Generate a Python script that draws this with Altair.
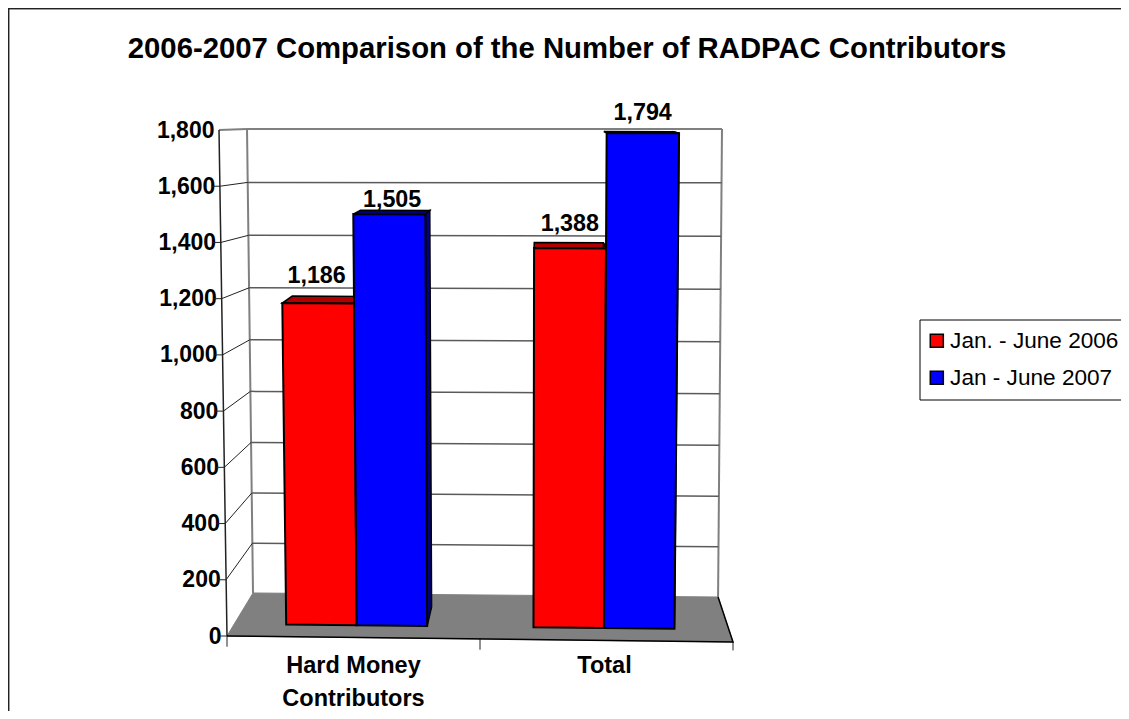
import altair as alt
import pandas as pd

title_text = "2006-2007 Comparison of the Number of RADPAC Contributors"
categories = ["Hard Money Contributors", "Total"]
series = ["Jan. - June 2006", "Jan - June 2007"]
values_2006 = [1186, 1388]
values_2007 = [1505, 1794]
y_ticks = [0, 200, 400, 600, 800, 1000, 1200, 1400, 1600, 1800]
series_colors = ["#ff0000", "#0000ff"]
shade_colors = ["#b00000", "#000080"]
label_lift = {"Jan. - June 2006": [46, 43], "Jan - June 2007": [12, 43]}
label_shift = {"Jan. - June 2006": [-0.028, 0.016], "Jan - June 2007": [0.0, 0.028]}

FONT = "Liberation Sans"
XMAX, YMAX = 2.0, 1800.0

# Corners of the 3-D box, in data units
FLB, FRB = (0.0, 0.0), (2.0, -21.3)
BLB, BRB = (0.1028, 153.0), (1.941, 138.7)
FLT, FRT = (-0.0316, 1800.0), (2.0277, 1790.0)
BLT, BRT = (0.0791, 1803.5), (1.9565, 1803.5)


def lerp(a, b, t):
    return a + (b - a) * t


def project(c, v, d):
    """Category position c, value v, depth d (0 front, 1 back) -> data units."""
    u = c / XMAX
    f = v / YMAX
    f = f - 0.04 * min(1.0, d / 0.25) * f * (1 - f)
    pts = []
    for i in (0, 1):
        fb = lerp(FLB[i], FRB[i], u)
        bb = lerp(BLB[i], BRB[i], u)
        ft = lerp(FLT[i], FRT[i], u)
        bt = lerp(BLT[i], BRT[i], u)
        pts.append(lerp(lerp(fb, ft, f), lerp(bb, bt, f), d))
    return pts[0], pts[1]


BAR_D0, BAR_D1 = 0.28, 0.72
BAR_W = 0.285


def poly_rows(name, pts, **extra):
    return [dict(poly=name, i=i, x=p[0], y=p[1], **extra) for i, p in enumerate(pts)]


grid, side, ticks, shades, fronts, labels = [], [], [], [], [], []
for t in y_ticks:
    if 0 < t < 1800:
        grid += poly_rows(f"g{t}", [project(0, t, 1), project(2, t, 1)])
        side += poly_rows(f"s{t}", [project(0, t, 0), project(0, t, 1)])
    if t < 1800:
        x0, y0 = project(0, t, 0)
        ticks += poly_rows(f"t{t}", [(x0 - 0.032, t), (x0, t)])

for ci in range(2):
    for k, (name, vals) in enumerate(zip(series, (values_2006, values_2007))):
        v = vals[ci]
        c0 = ci + 0.21 + k * BAR_W
        c1 = c0 + BAR_W
        fronts += poly_rows(
            f"f{ci}{k}",
            [project(c0, v, BAR_D0), project(c1, v, BAR_D0),
             project(c1, 0, BAR_D0), project(c0, 0, BAR_D0)],
            series=name,
        )
        shades += poly_rows(
            f"top{ci}{k}",
            [project(c0, v, BAR_D0), project(c1, v, BAR_D0),
             project(c1, v, BAR_D1), project(c0, v, BAR_D1)],
            shade=shade_colors[k],
        )
        shades += poly_rows(
            f"side{ci}{k}",
            [project(c1, v, BAR_D0), project(c1, v, BAR_D1),
             project(c1, 0, BAR_D1), project(c1, 0, BAR_D0)],
            shade=shade_colors[k],
        )
        lx, ly = project((c0 + c1) / 2, v, BAR_D1)
        labels.append(
            dict(x=lx - 0.012 + label_shift[name][ci], y=ly + label_lift[name][ci], text=f"{v:,}")
        )

xs = alt.Scale(domain=[0, XMAX], nice=False, zero=False)
ys = alt.Scale(domain=[0, YMAX], nice=False, zero=False)
x_axis = alt.Axis(
    values=[0.498, 1.49],
    domain=False,
    ticks=False,
    grid=False,
    labelExpr="datum.value < 1 ? ['Hard Money', 'Contributors'] : 'Total'",
    labelFont=FONT,
    labelFontSize=23.5,
    labelFontWeight="bold",
    labelColor="#000",
    labelPadding=17,
    labelLineHeight=33,
    labelFlush=False,
    labelOverlap=False,
)
y_axis = alt.Axis(
    values=y_ticks,
    domain=False,
    ticks=False,
    grid=False,
    format=",d",
    labelFont=FONT,
    labelFontSize=23,
    labelFontWeight="bold",
    labelColor="#000",
    labelPadding={"expr": "6 + 7 * datum.value / 1800"},
    labelOverlap=False,
    labelFlush=False,
)
X = alt.X("x:Q", scale=xs, axis=x_axis, title=None)
Y = alt.Y("y:Q", scale=ys, axis=y_axis, title=None)
O = alt.Order("i:Q")


def lines(rows, color, width):
    return (
        alt.Chart(pd.DataFrame(rows))
        .mark_line(stroke=color, strokeWidth=width, clip=False)
        .encode(x=X, y=Y, order=O, detail="poly:N")
    )


axis_df = pd.DataFrame({"x": [0.0, XMAX], "y": [0.0, YMAX]})

floor_pts = [project(0, 0, 0), project(0, 0, 1), project(2, 0, 1), project(2, 0, 0)]
floor = (
    alt.Chart(pd.DataFrame(poly_rows("floor", floor_pts)))
    .mark_line(fill="#808080", stroke="#808080", strokeWidth=1, interpolate="linear-closed", clip=False)
    .encode(x=X, y=Y, order=O, detail="poly:N")
)

back_edges = lines(
    poly_rows("bl", [project(0, 0, 1), project(0, 1800, 1)])
    + poly_rows("br", [project(2, 0, 1), project(2, 1800, 1)])
    + poly_rows("top", [project(0, 1800, 0), project(0, 1800, 1), project(2, 1800, 1)]),
    "#808080",
    2,
)
grid_lines = lines(grid, "#5a5a5a", 1.5)
side_lines = lines(side, "#222222", 1)
tick_lines = lines(
    ticks
    + poly_rows("x0", [project(0, 0, 0), (project(0, 0, 0)[0], project(0, 0, 0)[1] - 38)])
    + poly_rows("x1", [project(1, 0, 0), (project(1, 0, 0)[0], project(1, 0, 0)[1] - 38)])
    + poly_rows("x2", [project(2, 0, 0), (project(2, 0, 0)[0], project(2, 0, 0)[1] - 30)]),
    "#222222",
    1,
)
axis_line = lines(poly_rows("a", [project(0, 0, 0), project(0, 1800, 0)]), "#222222", 1.5)
floor_edges = lines(
    poly_rows("e", [project(0, 0, 0), project(2, 0, 0), project(2, 0, 1)]), "#000000", 1.5
)

shade_layer = (
    alt.Chart(pd.DataFrame(shades))
    .mark_line(stroke="#000000", strokeWidth=1.5, interpolate="linear-closed", clip=False)
    .encode(x=X, y=Y, order=O, detail="poly:N", fill=alt.Fill("shade:N", scale=None, legend=None))
)

front_layer = (
    alt.Chart(pd.DataFrame(fronts))
    .mark_line(stroke="#000000", strokeWidth=2, interpolate="linear-closed", clip=False)
    .encode(
        x=X,
        y=Y,
        order=O,
        detail="poly:N",
        fill=alt.Fill(
            "series:N",
            scale=alt.Scale(domain=series, range=series_colors),
            legend=alt.Legend(
                title=None,
                orient="none",
                legendX=692.5,
                legendY=189.5,
                strokeColor="#000000",
                padding=10,
                symbolType="square",
                symbolSize=170,
                symbolOffset=-4,
                symbolStrokeColor="#000000",
                symbolStrokeWidth=1.5,
                labelFont=FONT,
                labelFontSize=22.6,
                labelColor="#000",
                labelOffset=2,
                rowPadding=14,
                labelLimit=400,
            ),
        ),
    )
)

label_layer = (
    alt.Chart(pd.DataFrame(labels))
    .mark_text(font=FONT, fontSize=23.3, fontWeight="bold", color="#000", baseline="alphabetic", clip=False)
    .encode(x=X, y=Y, text="text:N")
)

frame_top = alt.Chart(axis_df).mark_rule(color="#222222", strokeWidth=1.5).encode(
    x=alt.value(-219), x2=alt.value(900), y=alt.value(-121.5)
)
frame_left = alt.Chart(axis_df).mark_rule(color="#222222", strokeWidth=1.5).encode(
    x=alt.value(-218.5), y=alt.value(-122), y2=alt.value(600)
)

chart = (
    alt.layer(
        frame_top, frame_left, floor, back_edges, grid_lines, side_lines,
        tick_lines, axis_line, floor_edges, shade_layer, front_layer, label_layer,
    )
    .resolve_scale(fill="independent")
    .properties(
        width=506,
        height=506,
        background="white",
        padding={"left": 219, "top": 122, "right": 388, "bottom": 75},
        autosize=alt.AutoSizeParams(type="none", contains="content"),
        title=alt.TitleParams(
            title_text,
            font=FONT,
            fontSize=29.3,
            fontWeight="bold",
            color="#000",
            anchor="middle",
            dx=87,
            offset=-57,
        ),
    )
    .configure_view(stroke=None)
)

chart.save("out.html", embed_options={"renderer": "svg", "actions": False})
